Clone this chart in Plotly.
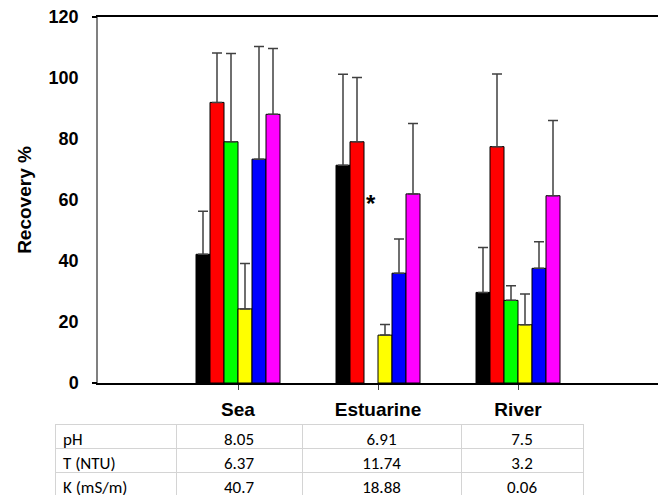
import plotly.graph_objects as go

categories = ["Sea", "Estuarine", "River"]
series_names = ["S1", "S2", "S3", "S4", "S5", "S6"]
series_colors = ["#000000", "#FF0000", "#00FF00", "#FFFF00", "#0000FF", "#FF00FF"]

# recovery % per series (rows) for Sea, Estuarine, River
values = [
    [42.2, 71.4, 29.7],
    [92.0, 79.1, 77.5],
    [79.1, None, 27.1],
    [24.3, 15.7, 19.1],
    [73.4, 36.0, 37.6],
    [88.1, 62.0, 61.4],
]
# upper error (SD) per series
errors = [
    [14.1, 29.8, 14.7],
    [16.2, 21.1, 23.8],
    [28.9, 0.0, 4.8],
    [14.9, 3.5, 10.1],
    [36.9, 11.2, 8.7],
    [21.6, 23.1, 24.7],
]

asterisk_category = "Estuarine"
asterisk_value = 60

table_labels = ["pH", "T (NTU)", "K (mS/m)"]
table_sea = ["8.05", "6.37", "40.7"]
table_estuarine = ["6.91", "11.74", "18.88"]
table_river = ["7.5", "3.2", "0.06"]

y_ticks = [0, 20, 40, 60, 80, 100, 120]

W, H = 658, 496
plot_left, plot_top, plot_bottom = 98, 17, 383
table_top, table_left, table_right = 424, 55, 583

fig = go.Figure()

for name, color, vals, errs in zip(series_names, series_colors, values, errors):
    fig.add_trace(go.Bar(
        name=name, x=categories, y=vals,
        marker=dict(color=color, line=dict(color="#000000", width=1)),
        error_y=dict(type="data", symmetric=False, array=errs,
                     arrayminus=[0] * len(errs), color="#404040",
                     thickness=1.5, width=5),
        showlegend=False,
    ))

# invisible trace for the extra y-axis ticks at 0 and 120
fig.add_trace(go.Scatter(x=[categories[0]], y=[0], yaxis="y2", mode="markers",
                         marker=dict(opacity=0), showlegend=False, hoverinfo="skip"))

fig.add_annotation(x=asterisk_category, y=asterisk_value, text="<b>*</b>",
                   showarrow=False, xshift=-7, yshift=-3,
                   font=dict(family="Liberation Sans, Arial", size=24, color="#000000"))

cell_style = dict(
    align=["left", "center", "center", "center"],
    fill=dict(color="white"), line=dict(color="#d4d4d4", width=1),
    font=dict(family="Carlito, Calibri, Open Sans", size=17, color="#000000"),
    height=24,
)
fig.add_trace(go.Table(
    domain=dict(x=[table_left / W, table_right / W], y=[0, 1 - table_top / H]),
    columnwidth=[121, 126, 159, 122],
    header=dict(values=[[table_labels[0]], [table_sea[0]], [table_estuarine[0]], [table_river[0]]],
                **cell_style),
    cells=dict(values=[table_labels[1:], table_sea[1:], table_estuarine[1:], table_river[1:]],
               **cell_style),
))

fig.update_layout(
    width=W, height=H,
    margin=dict(l=0, r=0, t=0, b=0, autoexpand=False),
    paper_bgcolor="white", plot_bgcolor="white",
    barmode="group", bargap=0.4, bargroupgap=0,
    font=dict(family="Liberation Sans, Arial", color="#000000"),
    xaxis=dict(
        domain=[plot_left / W, 1],
        type="category", range=[-1, 3], showgrid=False,
        showline=True, linecolor="#000000", linewidth=1.5, mirror=True,
        ticks="outside", ticklen=5, tickcolor="#404040", tickwidth=1,
        tickfont=dict(family="Liberation Sans, Arial", size=19, color="#000000", weight="bold"),
        ticklabelstandoff=3, zeroline=False, automargin=False,
    ),
    yaxis=dict(
        domain=[1 - plot_bottom / H, 1 - plot_top / H],
        range=[0, 120], tickvals=y_ticks, showgrid=False, zeroline=False,
        showline=True, linecolor="#808080", linewidth=1.5, ticks="",
        tickfont=dict(family="Liberation Sans, Arial", size=18, color="#000000", weight="bold"),
        ticklabelstandoff=14, automargin=False,
        title=dict(text="<b>Recovery %</b>", standoff=12,
                   font=dict(family="Liberation Sans, Arial", size=19, color="#000000")),
    ),
    yaxis2=dict(
        overlaying="y", range=[0, 120], tickvals=[0, 120], ticks="outside",
        ticklen=5, tickcolor="#000000", tickwidth=1.5, showticklabels=False,
        showgrid=False, zeroline=False, showline=False, side="left",
    ),
)

fig.write_html(
    "out.html",
    config={"displayModeBar": False},
    post_script="document.body.style.margin='0';document.body.style.overflow='hidden';",
)
